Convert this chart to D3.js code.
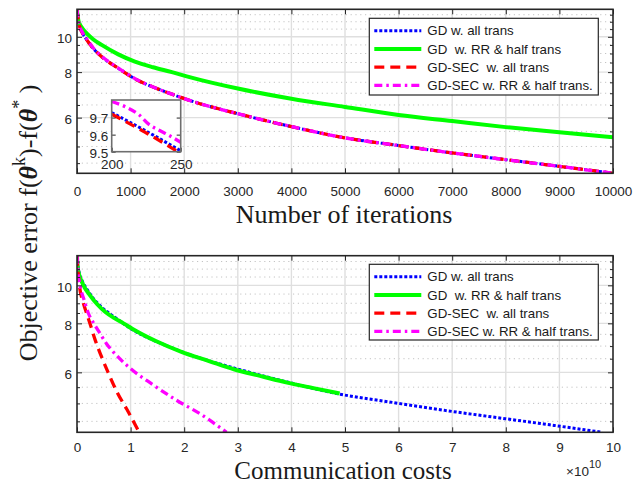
<!DOCTYPE html>
<html><head><meta charset="utf-8">
<script src="https://cdn.jsdelivr.net/npm/d3@7"></script>
<style>body{margin:0;background:#fff}svg{display:block}</style>
</head><body>
<svg id="chart" width="644" height="484"></svg>
<script>
// ---------------- data ----------------
const seriesNames = ["GD w. all trans", "GD  w. RR & half trans", "GD-SEC  w. all trans", "GD-SEC w. RR & half trans."];
const seriesColors = ["#0000ff", "#00ff00", "#ff0000", "#ff00ff"];

// top panel: objective error vs iterations
const iterations   = [0, 25, 50, 100, 200, 300, 460, 770, 1080, 1420, 1770, 2100, 3000, 4000, 5000, 6000, 7000, 8000, 9000, 10000];
const gdAllVals    = [11.9, 11.08, 10.65, 10.25, 9.73, 9.3, 8.82, 8.2, 7.67, 7.28, 6.96, 6.69, 6.15, 5.67, 5.28, 5.03, 4.8, 4.6, 4.41, 4.22];
const gdRRVals     = [11.9, 11.1, 10.85, 10.55, 10.15, 9.85, 9.5, 8.95, 8.55, 8.25, 8.0, 7.75, 7.21, 6.76, 6.42, 6.1, 5.87, 5.65, 5.47, 5.3];
const gdSecAllVals = [11.9, 11.08, 10.65, 10.25, 9.72, 9.3, 8.82, 8.2, 7.67, 7.28, 6.96, 6.69, 6.15, 5.67, 5.28, 5.03, 4.8, 4.6, 4.41, 4.22];
const gdSecRRVals  = [11.9, 11.1, 10.7, 10.3, 9.79, 9.33, 8.84, 8.21, 7.68, 7.28, 6.96, 6.69, 6.15, 5.67, 5.28, 5.03, 4.8, 4.6, 4.41, 4.22];

// inset (iterations 200-250)
const insetIterA   = [200, 224, 250];
const insetGdAll   = [9.729, 9.625, 9.505];
const insetSecAll  = [9.72, 9.615, 9.49];
const insetIterB   = [200, 210, 220, 227, 234, 241, 250];
const insetSecRR   = [9.794, 9.763, 9.715, 9.66, 9.627, 9.598, 9.555];

// bottom panel: objective error vs communication cost (x 1e10)
const gdAllCost    = [0, 0.0245, 0.049, 0.098, 0.196, 0.294, 0.4508, 0.7546, 1.0584, 1.3916, 1.7346, 2.058, 2.94, 3.92, 4.9, 5.88, 6.86, 7.84, 8.82, 9.8];
const gdRRCost     = [0, 0.01225, 0.0245, 0.049, 0.098, 0.147, 0.2254, 0.3773, 0.5292, 0.6958, 0.8673, 1.029, 1.47, 1.96, 2.45, 2.94, 3.43, 3.92, 4.41, 4.9];
const secAllCost   = [0, 0.02, 0.045, 0.12, 0.19, 0.26, 0.34, 0.43, 0.58, 0.76, 0.93, 1.16];
const secAllVals   = [11.9, 10.8, 10.0, 9.0, 8.4, 7.85, 7.25, 6.72, 6.0, 5.3, 4.83, 4.22];
const secRRCost    = [0, 0.02, 0.056, 0.13, 0.21, 0.30, 0.40, 0.55, 0.75, 1.0, 1.4, 1.85, 2.3, 2.79];
const secRRVals    = [11.9, 10.8, 10.0, 9.2, 8.5, 8.05, 7.65, 7.1, 6.6, 6.13, 5.6, 5.1, 4.7, 4.22];

const topXTicks = [0, 1000, 2000, 3000, 4000, 5000, 6000, 7000, 8000, 9000, 10000];
const botXTicks = [0, 1, 2, 3, 4, 5, 6, 7, 8, 9, 10];
const yMajorTicks = [6, 8, 10];
const yMinorTicks = [4.5, 5, 5.5, 6.5, 7, 7.5, 8.5, 9, 9.5, 10.5, 11, 11.5];
const yDomain = [4.22, 11.9];
const insetYTicks = [9.5, 9.6, 9.7];
const insetXTicks = [200, 250];

// ---------------- styles ----------------
const styles = [
  {w: 3, dash: "3,2"},
  {w: 4, dash: null},
  {w: 3.3, dash: "10,6"},
  {w: 3.3, dash: "8,4,2.5,4"}
];
const AX = "#262626";
const FONT = "'Liberation Sans', Arial, Helvetica, sans-serif";
const SERIF = "'Liberation Serif', 'Times New Roman', serif";

const svg = d3.select("#chart");
svg.append("rect").attr("width", 644).attr("height", 484).attr("fill", "#fff");

function zip(xs, ys) { return xs.map((v, i) => ({x: v, y: ys[i]})); }

let clipId = 0;
function panel(cfg) {
  const {x0, x1, y0, y1, xDomain, xTicks, labelPad, series, legend} = cfg;
  const x = d3.scaleLinear().domain(xDomain).range([x0, x1]);
  const y = d3.scaleLog().domain(yDomain).range([y1, y0]);
  const g = svg.append("g");

  // minor grid (y)
  g.selectAll("line.mg").data(yMinorTicks).join("line")
    .attr("x1", x0).attr("x2", x1).attr("y1", d => y(d)).attr("y2", d => y(d))
    .attr("stroke", "#c4c4c4").attr("stroke-width", 1).attr("stroke-dasharray", "1.2,3.6");
  // major grid
  g.selectAll("line.gx").data(xTicks.slice(1, -1)).join("line")
    .attr("x1", d => x(d)).attr("x2", d => x(d)).attr("y1", y0).attr("y2", y1)
    .attr("stroke", "#dfdfdf").attr("stroke-width", 1.4);
  g.selectAll("line.gy").data(yMajorTicks).join("line")
    .attr("x1", x0).attr("x2", x1).attr("y1", d => y(d)).attr("y2", d => y(d))
    .attr("stroke", "#dfdfdf").attr("stroke-width", 1.4);

  // curves
  const cid = "clip" + (clipId++);
  svg.append("clipPath").attr("id", cid).append("rect")
    .attr("x", x0).attr("y", y0 - 2).attr("width", x1 - x0).attr("height", y1 - y0 + 2);
  const line = d3.line().x(d => x(d.x)).y(d => y(d.y)).curve(d3.curveMonotoneX);
  const cg = g.append("g").attr("clip-path", `url(#${cid})`);
  series.forEach((s, i) => {
    cg.append("path").datum(s).attr("d", line).attr("fill", "none")
      .attr("stroke", seriesColors[i]).attr("stroke-width", styles[i].w)
      .attr("stroke-dasharray", styles[i].dash);
  });

  // axes (ticks inside)
  const styleAxis = sel => {
    sel.select(".domain").remove();
    sel.selectAll(".tick line").attr("stroke", AX).attr("stroke-width", 1);
    sel.selectAll("text").attr("fill", AX).attr("font-family", FONT).attr("font-size", "13.5px");
  };
  g.append("g").attr("transform", `translate(0,${y1})`)
    .call(d3.axisBottom(x).tickValues(xTicks).tickSizeInner(-5).tickSizeOuter(0).tickPadding(labelPad).tickFormat(d3.format("d")))
    .call(styleAxis);
  g.append("g").attr("transform", `translate(0,${y0})`)
    .call(d3.axisTop(x).tickValues(xTicks).tickSizeInner(-5).tickSizeOuter(0).tickFormat(""))
    .call(styleAxis);
  g.append("g").attr("transform", `translate(${x0},0)`)
    .call(d3.axisLeft(y).tickValues(yMajorTicks).tickSizeInner(-5).tickSizeOuter(0).tickPadding(5).tickFormat(d3.format("d")))
    .call(styleAxis)
    .selectAll("text").attr("dy", "0.42em");
  g.append("g").attr("transform", `translate(${x0},0)`)
    .call(d3.axisLeft(y).tickValues(yMinorTicks).tickSizeInner(-3).tickSizeOuter(0).tickFormat(""))
    .call(styleAxis);
  g.append("g").attr("transform", `translate(${x1},0)`)
    .call(d3.axisRight(y).tickValues(yMajorTicks).tickSizeInner(-5).tickSizeOuter(0).tickFormat(""))
    .call(styleAxis);
  g.append("g").attr("transform", `translate(${x1},0)`)
    .call(d3.axisRight(y).tickValues(yMinorTicks).tickSizeInner(-3).tickSizeOuter(0).tickFormat(""))
    .call(styleAxis);

  // box
  g.append("rect").attr("x", x0).attr("y", y0).attr("width", x1 - x0).attr("height", y1 - y0)
    .attr("fill", "none").attr("stroke", AX).attr("stroke-width", 1.6);

  // legend
  const lg = svg.append("g");
  lg.append("rect").attr("x", legend.x).attr("y", legend.y).attr("width", legend.w).attr("height", legend.h)
    .attr("fill", "#fff").attr("stroke", AX).attr("stroke-width", 1.2);
  seriesNames.forEach((n, i) => {
    const ry = legend.y + 12.4 + i * 18.2;
    lg.append("line").attr("x1", legend.x + 5).attr("x2", legend.x + 52).attr("y1", ry).attr("y2", ry)
      .attr("stroke", seriesColors[i]).attr("stroke-width", styles[i].w).attr("stroke-dasharray", styles[i].dash);
    lg.append("text").attr("x", legend.x + 58).attr("y", ry + 4.6).text(n)
      .attr("font-family", FONT).attr("font-size", "13.3px").attr("fill", "#1a1a1a")
      .style("white-space", "pre");
  });
  return {x, y, g};
}

// ---------------- top panel ----------------
panel({
  x0: 77, x1: 613, y0: 9.3, y1: 173.3,
  xDomain: [0, 10000], xTicks: topXTicks, labelPad: 13.3,
  series: [zip(iterations, gdAllVals), zip(iterations, gdRRVals), zip(iterations, gdSecAllVals), zip(iterations, gdSecRRVals)],
  legend: {x: 369.3, y: 18.3, w: 229, h: 76.7}
});

// inset
(function () {
  const ix0 = 111.7, ix1 = 180.7, iy0 = 100, iy1 = 151.7;
  const xi = d3.scaleLinear().domain([200, 250]).range([ix0, ix1]);
  const yi = d3.scaleLinear().domain([9.5, 9.803]).range([iy1, iy0]);
  const g = svg.append("g");
  g.append("rect").attr("x", ix0).attr("y", iy0).attr("width", ix1 - ix0).attr("height", iy1 - iy0).attr("fill", "#fff");
  svg.append("clipPath").attr("id", "clipInset").append("rect")
    .attr("x", ix0).attr("y", iy0).attr("width", ix1 - ix0).attr("height", iy1 - iy0);
  const line = d3.line().x(d => xi(d.x)).y(d => yi(d.y)).curve(d3.curveMonotoneX);
  const cg = g.append("g").attr("clip-path", "url(#clipInset)");
  const ser = [[zip(insetIterA, insetGdAll), 0], [zip(insetIterA, insetSecAll), 2], [zip(insetIterB, insetSecRR), 3]];
  ser.forEach(([d, i]) => {
    cg.append("path").datum(d).attr("d", line).attr("fill", "none")
      .attr("stroke", seriesColors[i]).attr("stroke-width", styles[i].w).attr("stroke-dasharray", styles[i].dash);
  });
  const st = sel => {
    sel.select(".domain").remove();
    sel.selectAll(".tick line").attr("stroke", AX).attr("stroke-width", 1);
    sel.selectAll("text").attr("fill", AX).attr("font-family", FONT).attr("font-size", "13.5px");
  };
  g.append("g").attr("transform", `translate(0,${iy1})`)
    .call(d3.axisBottom(xi).tickValues(insetXTicks).tickSizeInner(-4).tickSizeOuter(0).tickPadding(7.5)).call(st);
  g.append("g").attr("transform", `translate(${ix0},0)`)
    .call(d3.axisLeft(yi).tickValues(insetYTicks).tickSizeInner(-4).tickSizeOuter(0).tickPadding(3.5).tickFormat(d3.format(".1f"))).call(st)
    .selectAll("text").attr("dy", "0.4em");
  g.append("g").attr("transform", `translate(${ix1},0)`)
    .call(d3.axisRight(yi).tickValues(insetYTicks).tickSizeInner(-4).tickSizeOuter(0).tickFormat("")).call(st);
  g.append("rect").attr("x", ix0).attr("y", iy0).attr("width", ix1 - ix0).attr("height", iy1 - iy0)
    .attr("fill", "none").attr("stroke", "#6e6e6e").attr("stroke-width", 1.6);
})();

// ---------------- bottom panel ----------------
panel({
  x0: 77, x1: 613, y0: 255.7, y1: 432.3,
  xDomain: [0, 10], xTicks: botXTicks, labelPad: 10.5,
  series: [zip(gdAllCost, gdAllVals), zip(gdRRCost, gdRRVals), zip(secAllCost, secAllVals), zip(secRRCost, secRRVals)],
  legend: {x: 369.3, y: 264.3, w: 229, h: 75.7}
});

// exponent label
const ex = svg.append("text").attr("x", 566).attr("y", 475.5)
  .attr("font-family", FONT).attr("font-size", "13.5px").attr("fill", AX);
ex.append("tspan").text("\u00d710");
ex.append("tspan").attr("dy", -8).attr("font-size", "11px").text("10");

// axis titles
svg.append("text").attr("x", 344).attr("y", 222.5).attr("text-anchor", "middle")
  .attr("font-family", SERIF).attr("font-size", "26px").attr("fill", "#1a1a1a").text("Number of iterations");
svg.append("text").attr("x", 343).attr("y", 478.5).attr("text-anchor", "middle")
  .attr("font-family", SERIF).attr("font-size", "25px").attr("fill", "#1a1a1a").text("Communication costs");

const yl = svg.append("text").attr("transform", "translate(37,223) rotate(-90)").attr("text-anchor", "middle")
  .attr("font-family", SERIF).attr("font-size", "26px").attr("fill", "#1a1a1a");
yl.append("tspan").text("Objective error f(");
yl.append("tspan").attr("font-weight", "bold").attr("font-style", "italic").text("\u03b8");
yl.append("tspan").attr("dy", -12).attr("font-size", "18px").text("k");
yl.append("tspan").attr("dy", 12).text(")-f(");
yl.append("tspan").attr("font-weight", "bold").attr("font-style", "italic").text("\u03b8");
yl.append("tspan").attr("dy", -12).attr("font-size", "18px").text("*");
yl.append("tspan").attr("dy", 12).text(" )");
</script>
</body></html>
